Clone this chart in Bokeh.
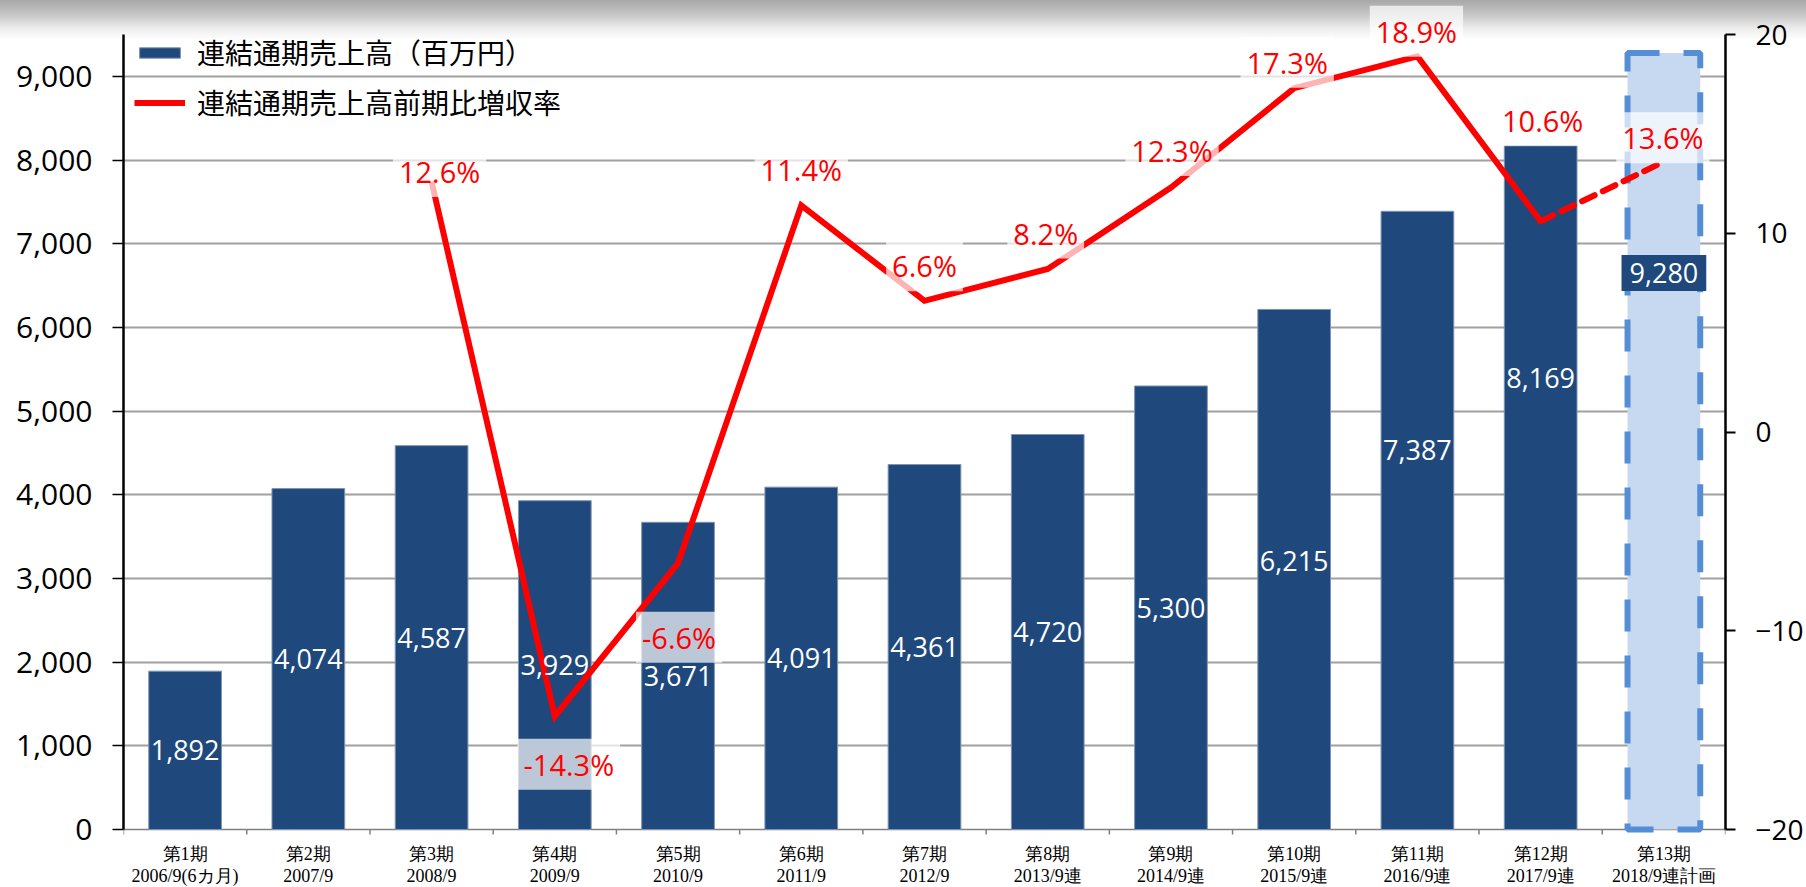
from bokeh.plotting import figure
from bokeh.models import (ColumnDataSource, Range1d, LinearAxis, FixedTicker,
                          NumeralTickFormatter, LabelSet, Label, Legend, LegendItem)
from bokeh.core.properties import value
from bokeh.embed import file_html
from bokeh.resources import INLINE

# ---------------- data ----------------
periods = ["第1期", "第2期", "第3期", "第4期", "第5期", "第6期", "第7期",
           "第8期", "第9期", "第10期", "第11期", "第12期", "第13期"]
dates = ["2006/9(6カ月)", "2007/9", "2008/9", "2009/9", "2010/9", "2011/9",
         "2012/9", "2013/9連", "2014/9連", "2015/9連", "2016/9連", "2017/9連",
         "2018/9連計画"]
sales = [1892, 4074, 4587, 3929, 3671, 4091, 4361, 4720, 5300, 6215, 7387, 8169, 9280]
growth = [None, None, 12.6, -14.3, -6.6, 11.4, 6.6, 8.2, 12.3, 17.3, 18.9, 10.6, 13.6]
legend_labels = ["連結通期売上高（百万円）", "連結通期売上高前期比増収率"]
left_ticks = [0, 1000, 2000, 3000, 4000, 5000, 6000, 7000, 8000, 9000]
left_max = 9500
right_ticks = [-20, -10, 0, 10, 20]

# ---------------- styling / layout ----------------
W, H = 1806, 887
AX_TOP, AX_BOTTOM = 34, 829          # where the value axes start / end (px)
bar_label_dy = [0, 0, 0, 0, 0, 0, 0, 0, 0, 8, 70, 110]
pct_label_dx = [0, 0, 8, 14, 1, 0, 0, -2, 1, -7, -1, 2, -1]
pct_label_dy = [0, 0, 10, -48, -74, 36, 35, 36, 37, 26, 25, 101, 24]

BAR = "#1f497d"
RED = "#ff0000"
NUMFONT = "Open Sans"

n = len(sales)
xs = list(range(1, n + 1))
n_actual = n - 1  # last one is the plan

# frame spans the whole height; value ranges are mapped so the axes sit at AX_TOP..AX_BOTTOM
ppu_l = (AX_BOTTOM - AX_TOP) / left_max
r_lo, r_hi = right_ticks[0], right_ticks[-1]
ppu_r = (AX_BOTTOM - AX_TOP) / (r_hi - r_lo)
y_lo = -(H - AX_BOTTOM) / ppu_l
y_hi = left_max + AX_TOP / ppu_l
yr_lo = r_lo - (H - AX_BOTTOM) / ppu_r
yr_hi = r_hi + AX_TOP / ppu_r

p = figure(width=W, height=H, output_backend="svg", toolbar_location=None,
           x_range=Range1d(0.5, n + 0.5), y_range=Range1d(y_lo, y_hi),
           min_border_left=123, min_border_right=75, min_border_top=0,
           min_border_bottom=0, y_axis_location=None, x_axis_location=None)
p.outline_line_color = None
p.background_fill_alpha = 0
p.border_fill_alpha = 0
p.styles = {"background": "linear-gradient(to bottom, #a8a8a8 0px, #c4c4c4 14px, #ececec 28px, #ffffff 40px)"}
p.extra_y_ranges = {"pct": Range1d(yr_lo, yr_hi)}

# left axis
laxis = LinearAxis(ticker=FixedTicker(ticks=left_ticks), bounds=(0, left_max),
                   formatter=NumeralTickFormatter(format="0,0"))
laxis.major_label_text_font = NUMFONT
laxis.major_label_text_font_size = "30px"
laxis.major_label_text_color = "black"
laxis.major_label_standoff = 20
laxis.major_tick_out = 11
laxis.major_tick_in = 0
laxis.major_tick_line_width = 1.5
laxis.minor_tick_line_color = None
laxis.axis_line_width = 2.5
p.add_layout(laxis, "left")

# right axis
raxis = LinearAxis(y_range_name="pct", ticker=FixedTicker(ticks=right_ticks),
                   bounds=(r_lo, r_hi))
raxis.major_label_text_font = NUMFONT
raxis.major_label_text_font_size = "28px"
raxis.major_label_text_color = "black"
raxis.major_label_standoff = 20
raxis.major_tick_out = 10
raxis.major_tick_in = 0
raxis.major_tick_line_width = 2
raxis.minor_tick_line_color = None
raxis.axis_line_width = 2.5
p.add_layout(raxis, "right")

p.xgrid.grid_line_color = None
p.ygrid.ticker = FixedTicker(ticks=left_ticks[1:])
p.ygrid.grid_line_color = "#a0a0a0"
p.ygrid.grid_line_width = 2

# category axis (line, boundary ticks, two-line labels)
bounds_x = [x - 0.5 for x in xs] + [n + 0.5]
p.line([bounds_x[0], bounds_x[-1]], [0, 0], line_color="#808080", line_width=1.5)
p.segment(x0=bounds_x, x1=bounds_x, y0=[0] * len(bounds_x),
          y1=[-5 / ppu_l] * len(bounds_x), line_color="#808080", line_width=1.5)
for i, x in enumerate(xs):
    p.add_layout(Label(x=x, y=0, y_offset=-24, text=periods[i], text_align="center",
                       text_baseline="middle", text_font="Liberation Serif",
                       text_font_size="18px", text_color="black"))
    p.add_layout(Label(x=x, y=0, y_offset=-46, text=dates[i], text_align="center",
                       text_baseline="middle", text_font="Liberation Serif",
                       text_font_size="18px", text_color="black"))

# bars (actual)
src_bar = ColumnDataSource(dict(
    x=xs[:n_actual], top=sales[:n_actual], mid=[v / 2 for v in sales[:n_actual]],
    lab=[f"{v:,}" for v in sales[:n_actual]], dy=bar_label_dy))
bars = p.vbar(x="x", top="top", bottom=0, width=0.59, source=src_bar, fill_color=BAR,
              line_color="#7f93b0", line_width=1)

# plan bar
src_plan = ColumnDataSource(dict(x=xs[n_actual:], top=sales[n_actual:]))
p.vbar(x="x", top="top", bottom=0, width=0.59, source=src_plan, fill_color="#c6d9f1",
       line_color="#558ed5", line_width=6, line_dash="32 24")

# growth line
solid_x = xs[:n_actual]
solid_y = [float("nan") if g is None else g for g in growth[:n_actual]]
line = p.line(solid_x, solid_y, y_range_name="pct", line_color=RED, line_width=6,
              line_join="miter")
p.line(xs[n_actual - 1:], growth[n_actual - 1:], y_range_name="pct", line_color=RED,
       line_width=6, line_dash="14 9", line_cap="round")

# bar labels
p.add_layout(LabelSet(x="x", y="mid", text="lab", y_offset="dy", source=src_bar,
                      text_color="white", text_font=value(NUMFONT),
                      text_font_size="27px", text_align="center",
                      text_baseline="middle"))
p.add_layout(Label(x=xs[-1], y=sales[-1], y_offset=-220, text=f"{sales[-1]:,}",
                   text_color="white", text_font=NUMFONT, text_font_size="27px",
                   text_align="center", text_baseline="middle",
                   background_fill_color=BAR, padding=8))

# percentage labels
for i, g in enumerate(growth):
    if g is None:
        continue
    p.add_layout(Label(x=xs[i], y=g, text=f"{g:.1f}%", x_offset=pct_label_dx[i],
                       y_offset=pct_label_dy[i], y_range_name="pct",
                       text_color=RED, text_font=NUMFONT, text_font_size="29px",
                       text_align="center", text_baseline="middle",
                       background_fill_color="white", background_fill_alpha=0.7,
                       padding=6))

# legend
legend = Legend(items=[LegendItem(label=legend_labels[0], renderers=[bars]),
                       LegendItem(label=legend_labels[1], renderers=[line])],
                location=(11, 765), margin=0, padding=0, spacing=10,
                glyph_width=51, glyph_height=13, label_height=34,
                label_standoff=12, label_text_font="Noto Sans CJK JP",
                label_text_font_size="28px", label_text_color="black",
                background_fill_alpha=0, border_line_color=None)
p.add_layout(legend)

open("out.html", "w").write(file_html(p, INLINE))
